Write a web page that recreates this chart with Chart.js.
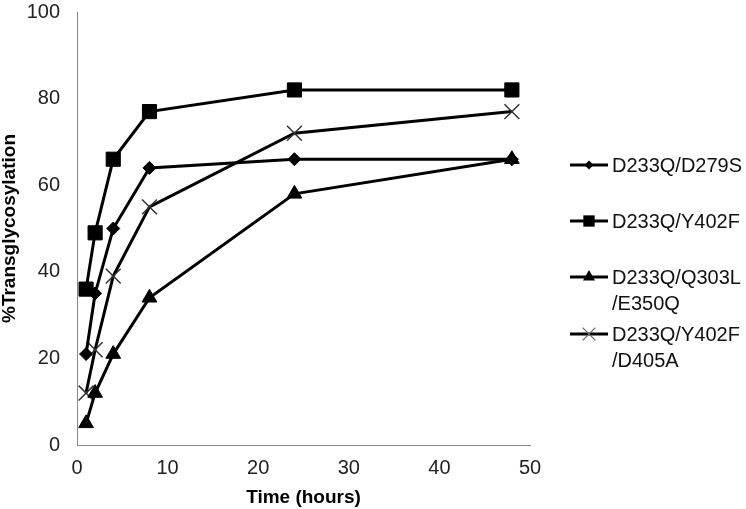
<!DOCTYPE html>
<html>
<head>
<meta charset="utf-8">
<script src="https://cdn.jsdelivr.net/npm/chart.js@4.4.0/dist/chart.umd.min.js"></script>
<style>
html,body{margin:0;padding:0;background:#fff;}
canvas{display:block;}
</style>
</head>
<body>
<canvas id="c" width="746" height="509"></canvas>
<script>
const times = [1, 2, 4, 8, 24, 48];
const seriesNames = ["D233Q/D279S", "D233Q/Y402F", ["D233Q/Q303L", "/E350Q"], ["D233Q/Y402F", "/D405A"]];
const d279s = [21, 35, 50, 64, 66, 66];
const y402f = [36, 49, 66, 77, 82, 82];
const q303l = [5, 12, 21, 34, 58, 66];
const d405a = [12, 22, 39, 55, 72, 77];
const xTicks = [0, 10, 20, 30, 40, 50];
const yTicks = [0, 20, 40, 60, 80, 100];
const xTitle = "Time (hours)";
const yTitle = "%Transglycosylation";

const FONT = "'Liberation Sans', Arial, sans-serif";
const styles = [
  {pointStyle: 'rectRot', radius: 6.5, border: 1, legendR: 4.5, pcolor: '#000'},
  {pointStyle: 'rect', radius: 10, border: 1, legendR: 8, pcolor: '#000'},
  {pointStyle: 'triangle', radius: 8.5, border: 1, legendR: 7, pcolor: '#000'},
  {pointStyle: 'crossRot', radius: 10.5, border: 1.5, legendR: 9, pcolor: '#333'}
];
const values = [d279s, y402f, q303l, d405a];

const datasets = values.map((vals, i) => ({
  label: Array.isArray(seriesNames[i]) ? seriesNames[i].join(' ') : seriesNames[i],
  data: times.map((t, j) => ({x: t, y: vals[j]})),
  borderColor: '#000',
  borderWidth: 3,
  backgroundColor: styles[i].pcolor,
  pointStyle: styles[i].pointStyle,
  pointRadius: styles[i].radius,
  pointHoverRadius: styles[i].radius,
  pointBorderColor: styles[i].pcolor,
  pointBackgroundColor: styles[i].pcolor,
  pointBorderWidth: styles[i].border,
  tension: 0,
  fill: false
}));

function drawMarker(ctx, style, r, x, y, color, bw) {
  ctx.save();
  ctx.fillStyle = color; ctx.strokeStyle = color; ctx.lineWidth = bw;
  ctx.beginPath();
  if (style === 'rect') {
    const s = r * Math.SQRT1_2;
    ctx.rect(x - s, y - s, 2 * s, 2 * s); ctx.fill();
  } else if (style === 'rectRot') {
    ctx.moveTo(x, y - r); ctx.lineTo(x + r, y); ctx.lineTo(x, y + r); ctx.lineTo(x - r, y); ctx.closePath(); ctx.fill();
  } else if (style === 'triangle') {
    ctx.moveTo(x, y - r); ctx.lineTo(x + r * 0.866, y + r * 0.5); ctx.lineTo(x - r * 0.866, y + r * 0.5); ctx.closePath(); ctx.fill();
  } else if (style === 'crossRot') {
    const s = r * Math.SQRT1_2;
    ctx.moveTo(x - s, y - s); ctx.lineTo(x + s, y + s);
    ctx.moveTo(x + s, y - s); ctx.lineTo(x - s, y + s); ctx.stroke();
  }
  ctx.restore();
}

const legendPlugin = {
  id: 'customLegend',
  afterDraw(chart) {
    const ctx = chart.ctx;
    const rows = [165, 221, 277, 334];
    ctx.save();
    ctx.font = '20px ' + FONT;
    ctx.fillStyle = '#111';
    ctx.textBaseline = 'middle';
    ctx.textAlign = 'left';
    seriesNames.forEach((name, i) => {
      const y = rows[i];
      ctx.strokeStyle = '#000'; ctx.lineWidth = 3;
      ctx.beginPath(); ctx.moveTo(570, y); ctx.lineTo(608, y); ctx.stroke();
      drawMarker(ctx, styles[i].pointStyle, styles[i].legendR, 589, y, i === 3 ? '#666' : '#000', 1.2);
      const lines = Array.isArray(name) ? name : [name];
      lines.forEach((ln, k) => ctx.fillText(ln, 612, y + 1 + k * 26));
    });
    ctx.restore();
  }
};

new Chart(document.getElementById('c'), {
  type: 'line',
  data: {datasets},
  options: {
    responsive: false,
    animation: false,
    layout: {padding: {left: 0, right: 216, top: 9, bottom: 0}},
    plugins: {legend: {display: false}, tooltip: {enabled: false}},
    scales: {
      x: {
        type: 'linear', min: 0, max: 50,
        afterBuildTicks: s => { s.ticks = xTicks.map(v => ({value: v})); },
        afterFit: s => { s.height = 64; s.paddingLeft = 0; s.paddingRight = 0; },
        grid: {display: false, drawTicks: true, tickLength: 6, tickColor: '#888'},
        border: {display: true, color: '#888', width: 1},
        ticks: {font: {family: FONT, size: 20}, color: '#222', padding: 5, maxRotation: 0},
        title: {display: true, text: xTitle, font: {family: FONT, size: 19, weight: 'bold'}, color: '#000', padding: 0}
      },
      y: {
        type: 'linear', min: 0, max: 100,
        afterBuildTicks: s => { s.ticks = yTicks.map(v => ({value: v})); },
        afterFit: s => { s.width = 77; s.paddingTop = 0; s.paddingBottom = 0; },
        grid: {display: false, drawTicks: true, tickLength: 6, tickColor: '#888'},
        border: {display: true, color: '#888', width: 1},
        ticks: {font: {family: FONT, size: 20}, color: '#222', padding: 11},
        title: {display: true, text: yTitle, font: {family: FONT, size: 19, weight: 'bold', lineHeight: 1}, color: '#000', padding: 0}
      }
    }
  },
  plugins: [legendPlugin]
});
</script>
</body>
</html>
